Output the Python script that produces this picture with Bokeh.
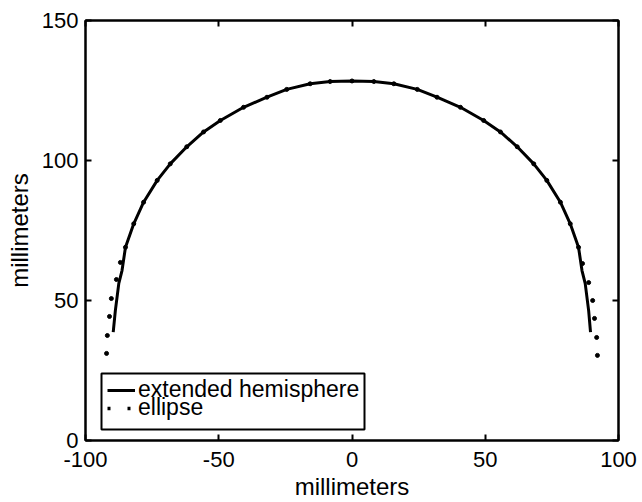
from bokeh.plotting import figure
from bokeh.models import Range1d, FixedTicker, LinearAxis, Legend, LegendItem, BoxAnnotation
from bokeh.embed import file_html
from bokeh.resources import INLINE

# extended hemisphere (solid line)
hemi_x = [-89.6, -88.8, -87.5, -86.3, -85.0, -81.9, -78.2, -73.1, -68.2, -62.0, -55.7,
          -49.4, -40.7, -31.9, -24.5, -15.7, -8.2, 0.0, 8.2, 15.7, 24.5, 31.9, 40.7,
          49.4, 55.7, 62.0, 68.2, 73.1, 78.2, 81.9, 85.0, 86.3, 87.5, 88.8, 89.5]
hemi_y = [38.7, 46.4, 56.1, 60.7, 69.0, 77.4, 85.1, 92.9, 98.8, 104.9, 110.2,
          114.3, 119.0, 122.6, 125.4, 127.4, 128.2, 128.4, 128.2, 127.4, 125.4, 122.6, 119.0,
          114.3, 110.2, 104.9, 98.8, 92.9, 85.1, 77.4, 69.0, 60.7, 56.1, 46.4, 38.7]

# ellipse (dots)
ell_x = [-92.1, -91.8, -91.0, -90.3, -88.4, -86.9, -85.0, -81.9, -78.2, -73.1, -68.2,
         -62.0, -55.7, -49.4, -40.7, -31.9, -24.5, -15.7, -8.2, 0.0,
         8.2, 15.7, 24.5, 31.9, 40.7, 49.4, 55.7, 62.0, 68.2, 73.1,
         78.2, 81.9, 85.0, 86.5, 88.8, 90.3, 91.0, 91.8, 92.1]
ell_y = [31.1, 37.5, 44.3, 50.7, 57.5, 63.6, 69.0, 77.4, 85.1, 92.9, 98.8,
         104.9, 110.2, 114.3, 119.0, 122.6, 125.4, 127.4, 128.2, 128.4,
         128.2, 127.4, 125.4, 122.6, 119.0, 114.3, 110.2, 104.9, 98.8, 92.9,
         85.1, 77.4, 69.0, 63.2, 56.4, 50.0, 43.6, 36.8, 30.4]

x_ticks = [-100, -50, 0, 50, 100]
y_ticks = [0, 50, 100, 150]
x_label = "millimeters"
y_label = "millimeters"
series_names = ["extended hemisphere", "ellipse"]

FONT = "Liberation Sans"

p = figure(width=642, height=502, output_backend="svg", toolbar_location=None,
           x_range=Range1d(-100, 100), y_range=Range1d(0, 150),
           min_border_left=85, min_border_right=24, min_border_top=20, min_border_bottom=62)
p.grid.visible = False
p.outline_line_color = "black"
p.outline_line_width = 2
p.background_fill_color = "white"
p.border_fill_color = "white"

bottom_ax = p.below[0]
left_ax = p.left[0]
bottom_ax.ticker = FixedTicker(ticks=x_ticks)
left_ax.ticker = FixedTicker(ticks=y_ticks)
bottom_ax.major_label_overrides = {t: str(t) for t in x_ticks}
left_ax.major_label_overrides = {t: str(t) for t in y_ticks}
bottom_ax.axis_label = x_label
left_ax.axis_label = y_label

# extra axes for ticks on top and right (no labels)
top_ax = LinearAxis(ticker=FixedTicker(ticks=x_ticks), major_label_text_font_size="0px",
                    major_label_standoff=0)
right_ax = LinearAxis(ticker=FixedTicker(ticks=y_ticks), major_label_text_font_size="0px",
                      major_label_standoff=0)
p.add_layout(top_ax, "above")
p.add_layout(right_ax, "right")

for ax in [bottom_ax, left_ax, top_ax, right_ax]:
    ax.axis_line_width = 2
    ax.axis_line_color = "black"
    ax.major_tick_line_width = 2
    ax.major_tick_line_color = "black"
    ax.major_tick_in = 6
    ax.major_tick_out = 0
    ax.minor_tick_line_color = None
    ax.major_label_text_font = FONT
    ax.major_label_text_color = "black"
    ax.axis_label_text_font = FONT
    ax.axis_label_text_font_style = "normal"
    ax.axis_label_text_color = "black"

for ax in [bottom_ax, left_ax]:
    ax.major_label_text_font_size = "22px"
    ax.axis_label_text_font_size = "24px"

bottom_ax.major_label_standoff = 11
bottom_ax.axis_label_standoff = 3
left_ax.major_label_standoff = 7
left_ax.axis_label_standoff = 6

p.scatter(ell_x, ell_y, size=4, fill_color="black", line_color="black")
r_line = p.line(hemi_x, hemi_y, line_color="black", line_width=3)
r_dummy = p.line(x=[float("nan")], y=[float("nan")], line_color="black",
                 line_width=3.5, line_dash="3 17")

# legend frame (screen units relative to the plot frame)
legend_box = BoxAnnotation(left=16, right=279, bottom=11, top=67,
                           left_units="screen", right_units="screen",
                           bottom_units="screen", top_units="screen",
                           fill_color="white", fill_alpha=1,
                           line_color="black", line_alpha=1, line_width=2)
p.add_layout(legend_box)

def make_legend(label, renderer, loc):
    lg = Legend(items=[LegendItem(label=label, renderers=[renderer])], location=loc)
    lg.border_line_color = None
    lg.background_fill_alpha = 0
    lg.label_text_font = FONT
    lg.label_text_font_size = "23px"
    lg.label_text_color = "black"
    lg.padding = 0
    lg.spacing = 0
    lg.margin = 0
    lg.glyph_width = 28
    lg.glyph_height = 16
    lg.label_height = 16
    lg.label_standoff = 3
    return lg

p.add_layout(make_legend(series_names[0], r_line, (22, 37)))
p.add_layout(make_legend(series_names[1], r_dummy, (22, 19)))

open("out.html", "w").write(file_html(p, INLINE))
